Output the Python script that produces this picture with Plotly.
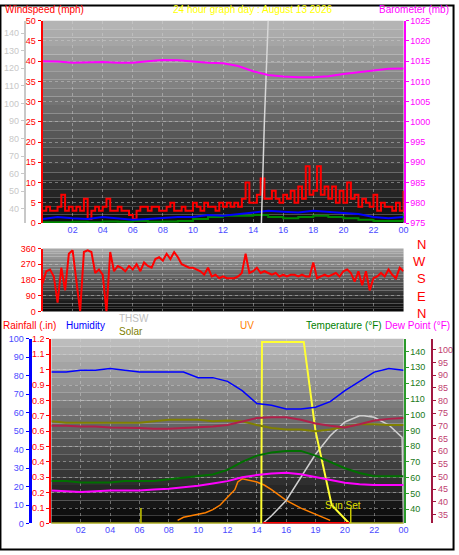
import plotly.graph_objects as go

# ---------- data ----------
hours_q = [i * 0.25 for i in range(97)]
hours_h = list(range(25))

wind_speed = [3, 4, 3, 3, 4, 7, 3, 4, 3, 4, 3, 6, 1, 3, 4, 3,
              4, 6, 3, 3, 4, 3, 3, 2, 1, 3, 4, 4, 3, 4, 4, 3,
              3, 4, 5, 3, 3, 4, 3, 3, 5, 4, 3, 5, 4, 4, 3, 5,
              4, 5, 4, 5, 4, 6, 10, 5, 5, 7, 11, 6, 6, 8, 6, 5,
              7, 6, 8, 5, 9, 6, 14, 7, 8, 14, 7, 9, 6, 9, 5, 8,
              5, 10, 6, 7, 4, 6, 5, 4, 7, 3, 5, 4, 4, 3, 5, 3, 8]
wind_avg = [1, 1.5, 1.2, 1, 1.5, 1.2, 0.8, 1, 1.2, 1.5, 1.5, 2, 1.8,
            2.2, 2.5, 3, 2.8, 2.6, 3, 2.8, 2.5, 2.2, 1.5, 1.2, 1.5]
wind_low = [0.2, 0.2, 0.3, 0.2, 0.4, 0.3, 0.5, 0.3, 0.4, 0.5, 1, 1.5, 1.8,
            1.8, 2, 1.5, 1.2, 1.5, 1.8, 1.5, 1.2, 0.8, 0.5, 0.5, 2.5]
barometer = [1015, 1014.9, 1014.6, 1014.7, 1014.8, 1014.6, 1014.6, 1015, 1015.3,
             1015.2, 1014.9, 1014.6, 1014.5, 1013.8, 1012.5, 1011.6, 1011.2,
             1011.0, 1011.0, 1011.3, 1011.8, 1012.3, 1012.7, 1013.1, 1013.2]
thsw_top_t = [14.55, 14.75, 15.0]
thsw_top = [32, 90, 147]

wind_dir = [160, 230, 240, 200, 50, 250, 120, 330, 350, 190, 0, 340,
            350, 340, 220, 240, 210, 0, 340, 230, 260, 250, 230, 260,
            240, 270, 230, 280, 260, 250, 300, 310, 290, 330, 300, 340,
            310, 270, 260, 250, 250, 240, 230, 210, 250, 200, 210, 190,
            200, 190, 190, 190, 200, 220, 330, 220, 230, 250, 220, 230,
            220, 210, 220, 200, 210, 200, 210, 210, 200, 210, 200, 200,
            280, 190, 200, 210, 200, 210, 220, 200, 230, 240, 220, 170,
            230, 150, 230, 120, 190, 200, 220, 200, 240, 210, 190, 250, 230]
compass = ["N", "W", "S", "E", "N"]

humidity = [82, 82, 83, 83, 84, 83, 82, 82, 82, 82, 79, 79, 77, 72, 65, 64,
            62, 62, 63, 66, 72, 77, 82, 84, 83]
temperature = [58, 58, 57, 57, 57, 58, 58, 58, 59, 60, 61, 62, 65, 70, 74, 76,
               77, 77, 74, 70, 66, 63, 61, 61, 61]
dew_point = [44.5, 44.2, 43.9, 44.2, 44.5, 44.5, 44.5, 44.9, 45.2, 45.8, 46.4,
             47.3, 48.2, 49.7, 50.6, 51.2, 51.5, 50.9, 49.7, 48.5, 47.6, 47,
             46.7, 46.7, 46.7]
heat_idx = [92.9, 92.9, 92.4, 92.4, 91.9, 91.9, 91.5, 91, 91, 91.5, 91.9, 92.4,
            93.4, 95.8, 97.8, 98.3, 98.3, 96.8, 94.4, 92.9, 91.9, 93.9, 96.3,
            97.3, 97.8]
solar_line = [95.8, 94.9, 94.9, 94.9, 94.9, 94.9, 94.9, 95.8, 96.8, 96.8, 96.8,
              95.8, 96.3, 95.8, 93.4, 91.5, 90.5, 90.5, 89.5, 90.5, 92.4, 93.9,
              93.9, 93.4, 93.4]
uv_t = [8.6, 9, 10, 10.5, 11, 11.5, 12, 12.5, 12.7, 13, 14, 14.5, 15, 16, 17, 18, 18.5, 19]
uv = [0.02, 0.04, 0.06, 0.07, 0.09, 0.12, 0.17, 0.22, 0.27, 0.29, 0.27, 0.25,
      0.22, 0.15, 0.10, 0.06, 0.04, 0.02]
sun_t = [0, 14.3, 14.35, 17.2, 18, 19.1, 20.3, 24]
sun = [0, 0, 1.18, 1.18, 0.6, 0.12, 0, 0]
thsw_t = [14.4, 15, 16, 17, 18, 19, 20, 21, 21.3, 22, 23, 23.9, 24]
thsw = [0, 0.05, 0.15, 0.3, 0.45, 0.57, 0.66, 0.70, 0.70, 0.69, 0.64, 0.56, 0]
rain_t = [14.4, 20.3]
rain = [0, 0]
sunrise, sunset = 6.1, 20.4

tick_vals = [2, 4, 6, 8, 10, 12, 14, 16, 18, 20, 22, 24]
top_labels = ["02", "04", "06", "08", "10", "12", "14", "16", "18", "20", "22", "00"]
bot_labels = ["02", "04", "06", "08", "10", "12", "14", "16", "19", "20", "22", "00"]
rain_ticks = [i / 10 for i in range(13)]
rain_labels = ["0", "0.1", "0.2", "0.3", "0.4", "0.5", "0.6", "0.7", "0.8", "0.9", "1", "1.1", "1.2"]

W, H = 459, 555
def py(p):  # pixel -> paper y
    return 1 - p / H
def px(p):
    return p / W

F = "Liberation Sans"
BLUE_T = "#4a4aff"
fig = go.Figure()

def line(x, y, color, width, xa, ya, shape="linear"):
    fig.add_trace(go.Scatter(x=x, y=y, mode="lines", line=dict(color=color, width=width, shape=shape),
                             xaxis=xa, yaxis=ya))

# top panel
line(hours_q, wind_speed, "#ff0000", 2, "x", "y", "hv")
line(hours_h, wind_low, "#008800", 2, "x", "y", "hv")
line(hours_h, wind_avg, "#0000ff", 2, "x", "y")
line(hours_h, barometer, "#ff00ff", 2, "x", "y3")
line(thsw_top_t, thsw_top, "#d8d8d8", 1.5, "x", "y2")

# middle panel
line(hours_q, wind_dir, "#ff0000", 2, "x2", "y4")

# bottom panel
line(hours_h, solar_line, "#808000", 2, "x3", "y8")
line(hours_h, heat_idx, "#b0204a", 2, "x3", "y8")
line(hours_h, temperature, "#007000", 2, "x3", "y8")
line(hours_h, dew_point, "#ff00ff", 2, "x3", "y9")
line(hours_h, humidity, "#0000ff", 1.5, "x3", "y7")
line(uv_t, uv, "#ff8000", 1.5, "x3", "y6")
line(thsw_t, thsw, "#d0d0d0", 1.5, "x3", "y6")
line(sun_t, sun, "#ffff33", 2, "x3", "y6")
line(rain_t, rain, "#ff0000", 3, "x3", "y6")
for s in (sunrise, sunset):
    line([s, s], [0, 0.1], "#c8c800", 1.5, "x3", "y6")

# gradient backgrounds
panels = [("x", "y", "#b4b4b4", "#101010"), ("x2", "y4", "#a8a8a8", "#080808"), ("x3", "y6", "#bcbcbc", "#080808")]
shapes = []
N = 24
for xr, yr, c0, c1 in panels:
    a = [int(c0[i:i + 2], 16) for i in (1, 3, 5)]
    b = [int(c1[i:i + 2], 16) for i in (1, 3, 5)]
    for k in range(N):
        t = k / (N - 1)
        col = "rgb(%d,%d,%d)" % tuple(int(b[j] + (a[j] - b[j]) * t) for j in range(3))
        shapes.append(dict(type="rect", xref=xr + " domain", yref=yr + " domain",
                           x0=0, x1=1, y0=k / N, y1=(k + 1) / N, fillcolor=col,
                           line=dict(width=0), layer="below"))
shapes.append(dict(type="rect", xref="paper", yref="paper", x0=0.001, x1=0.999, y0=0.001, y1=0.999,
                   line=dict(color="black", width=2)))

grid = dict(showgrid=True, gridcolor="rgba(210,210,210,0.45)", griddash="dot", gridwidth=1)
def xax(labels, dom, show):
    return dict(domain=dom, range=[0, 24], tickvals=tick_vals, ticktext=labels, showticklabels=show,
                tickfont=dict(color=BLUE_T, size=9, family=F), zeroline=False, **grid)

def yax(dom, rng, color, side="left", pos=None, overlay=None, dtick=None, tv=None, tt=None, lw=2, g=False):
    d = dict(domain=dom, range=rng, side=side, tickfont=dict(color=color, size=9, family=F),
             showline=True, linecolor=color, linewidth=lw, ticks="outside", tickcolor=color,
             ticklen=3, zeroline=False, showgrid=g, gridcolor="rgba(210,210,210,0.45)", griddash="dot")
    if dtick: d["dtick"] = dtick
    if tv is not None:
        d["tickvals"] = tv
        d["ticktext"] = tt
    if pos is not None:
        d["anchor"] = "free"; d["position"] = pos
    if overlay: d["overlaying"] = overlay
    return d

top_x = [px(43), px(408)]
bot_x = [px(52), px(408)]
top_dom = [py(222), py(16)]
mid_dom = [py(312), py(248)]
bot_dom = [py(528), py(340)]

fig.update_layout(
    width=W, height=H, margin=dict(l=0, r=0, t=0, b=0),
    paper_bgcolor="white", plot_bgcolor="rgba(0,0,0,0)", showlegend=False,
    shapes=shapes,
    xaxis=xax(top_labels, top_x, True) | dict(anchor="y"),
    xaxis2=xax(top_labels, top_x, False) | dict(anchor="y4"),
    xaxis3=xax(bot_labels, bot_x, True) | dict(anchor="y6"),
    yaxis=yax(top_dom, [0, 50], "#ff0000", dtick=5, g=True) | dict(anchor="x"),
    yaxis2=yax(top_dom, [32, 147], "#c8c8c8", pos=px(25), overlay="y", tv=list(range(40, 150, 10)), tt=[str(v) for v in range(40, 150, 10)]),
    yaxis3=yax(top_dom, [975, 1025], "#ff00ff", side="right", overlay="y", dtick=5) | dict(anchor="x"),
    yaxis4=yax(mid_dom, [0, 360], "#ff0000", dtick=90, g=True) | dict(anchor="x2"),
    yaxis6=yax(bot_dom, [0, 1.2], "#ff0000", tv=rain_ticks, tt=rain_labels, g=True) | dict(anchor="x3"),
    yaxis7=yax(bot_dom, [0, 100], "#0000ff", pos=px(30), overlay="y6", dtick=10, lw=3) | dict(tickfont=dict(color=BLUE_T, size=9, family=F)),
    yaxis8=yax(bot_dom, [31, 148], "#2a9a2a", side="right", overlay="y6", tv=list(range(40, 150, 10)),
               tt=[str(v) for v in range(40, 150, 10)]) | dict(anchor="x3", tickfont=dict(color="#1a7a1a", size=9, family=F)),
    yaxis9=yax(bot_dom, [31.5, 104.3], "#a01840", side="right", pos=px(437), overlay="y6",
               tv=list(range(35, 105, 5)), tt=[str(v) for v in range(35, 105, 5)]) | dict(tickfont=dict(color="#c04070", size=9, family=F)),
)

ann = [
    ("Windspeed (mph)", 3, 5, "#ff0000", "left"),
    ("24 hour graph day : August 13 2026", 255, 5, "#ffff00", "center"),
    ("Barometer (mb)", 456, 5, "#ff00ff", "right"),
    ("Rainfall (.in)", 1, 326, "#ff0000", "left"),
    ("Humidity", 65, 326, "#0000ff", "left"),
    ("THSW", 118, 319, "#c0c0c0", "left"),
    ("Solar", 118, 332, "#808000", "left"),
    ("UV", 250, 326, "#ff8000", "center"),
    ("Temperature (°F)", 307, 326, "#008000", "left"),
    ("Dew Point (°F)", 457, 326, "#ff00ff", "right"),
]
for text, x, y, c, al in ann:
    fig.add_annotation(text=text, x=px(x), y=py(y), xref="paper", yref="paper", showarrow=False,
                       xanchor=al, yanchor="middle", font=dict(color=c, size=10, family=F))
for i, c in enumerate(compass):
    fig.add_annotation(text=c, x=px(433), y=py(244 + 17.5 * i), xref="paper", yref="paper", showarrow=False,
                       font=dict(color="#ff0000", size=13, family=F))
fig.add_annotation(text="Sun Set", x=19.9, y=0.12, xref="x3", yref="y6", showarrow=False,
                   font=dict(color="#e0e000", size=10, family=F))

fig.write_html("out.html", config={"displayModeBar": False},
               post_script="document.body.style.margin='0';")
